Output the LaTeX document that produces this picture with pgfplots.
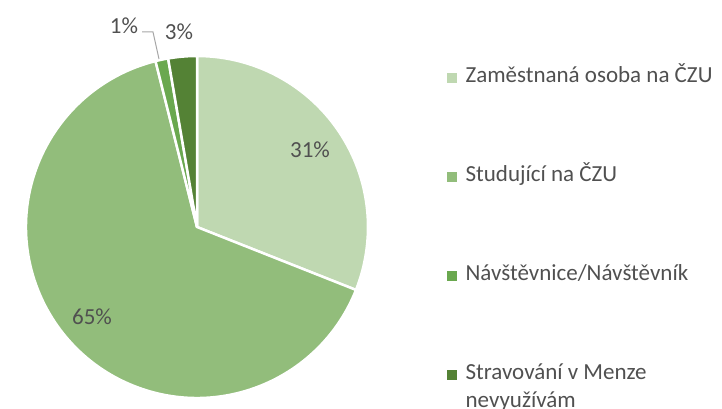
\documentclass[border=0pt]{standalone}
\usepackage{fontspec}
\setmainfont{Carlito}
\usepackage{pgfplots}
\usepackage{pgfplotstable}
\pgfplotsset{compat=1.18}

\definecolor{pie0}{HTML}{BFD8B1}
\definecolor{pie1}{HTML}{92BD7B}
\definecolor{pie2}{HTML}{6AA84F}
\definecolor{pie3}{HTML}{548235}
\definecolor{txt}{HTML}{505050}

% shares in percent, clockwise from 12 o'clock
\pgfplotstableread{
share
31.0
65.1
1.2
2.7
}\piedata

% start/end angle of every slice
\pgfmathsetmacro\cur{90}
\pgfplotsforeachungrouped \i in {0,...,3}{%
  \pgfplotstablegetelem{\i}{share}\of\piedata
  \pgfmathsetmacro\nxt{\cur-3.6*\pgfplotsretval}%
  \expandafter\xdef\csname sa\i\endcsname{\cur}%
  \expandafter\xdef\csname ea\i\endcsname{\nxt}%
  \global\let\cur\nxt
}

\begin{document}
\begin{tikzpicture}[font=\fontsize{23bp}{28bp}\selectfont]
\begin{axis}[
  x=1bp, y=1bp, xmin=0, xmax=722, ymin=0, ymax=409,
  scale only axis, hide axis, clip=false,
  legend cell align=left,
  legend style={at={(axis cs:447,343)}, anchor=north west, draw=none, fill=none,
    inner sep=0pt, row sep=77bp, text=txt,
    font=\fontsize{23bp}{28bp}\selectfont,
    nodes={text height=16bp, text depth=6bp, inner sep=0pt},
    /tikz/every odd column/.append style={column sep=9bp}},
  legend image code/.code={\fill[#1] (0bp,-4.5bp) rectangle (9bp,4.5bp);},
]
\addlegendimage{pie0}\addlegendentry{Zaměstnaná osoba na ČZU}
\addlegendimage{pie1}\addlegendentry{Studující na ČZU}
\addlegendimage{pie2}\addlegendentry{Návštěvnice/Návštěvník}
\addlegendimage{pie3}\addlegendentry{\begin{tabular}[t]{@{}l@{}}Stravování v Menze\\nevyužívám\end{tabular}}

\pgfplotsforeachungrouped \i in {0,...,3}{%
  \edef\tmp{\noexpand\filldraw[fill=pie\i, draw=white, line width=2.5bp, line join=round]
    (axis cs:197,182) -- ++(\csname sa\i\endcsname:171bp)
    arc[start angle=\csname sa\i\endcsname, end angle=\csname ea\i\endcsname, radius=171bp] -- cycle;}%
  \tmp
}

\draw[gray!70, line width=1bp] (axis cs:142,377) -- (axis cs:153,377) -- (axis cs:159,350);
\node[text=txt] at (axis cs:310,259) {31\%};
\node[text=txt] at (axis cs:92,92) {65\%};
\node[text=txt] at (axis cs:124,383) {1\%};
\node[text=txt] at (axis cs:179,377) {3\%};
\end{axis}
\pgfresetboundingbox
\path (0,0) rectangle (722bp,409bp);
\end{tikzpicture}
\end{document}
